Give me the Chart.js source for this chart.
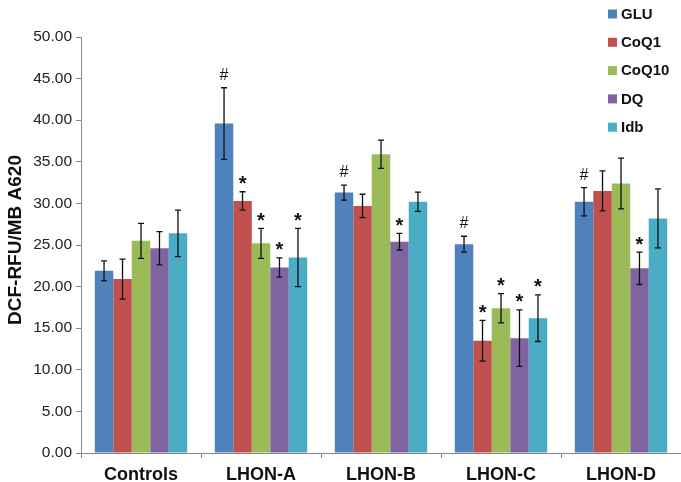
<!DOCTYPE html>
<html>
<head>
<meta charset="utf-8">
<script src="https://cdn.jsdelivr.net/npm/chart.js@4/dist/chart.umd.min.js"></script>
<style>
html,body{margin:0;padding:0;background:#fff;}
#wrap{width:681px;height:482px;position:relative;}
</style>
</head>
<body>
<div id="wrap"><canvas id="c" width="681" height="482"></canvas></div>
<script>
const categories = ['Controls', 'LHON-A', 'LHON-B', 'LHON-C', 'LHON-D'];
const seriesNames = ['GLU', 'CoQ1', 'CoQ10', 'DQ', 'Idb'];
const gluValues   = [21.9, 39.6, 31.3, 25.1, 30.2];
const coq1Values  = [20.9, 30.3, 29.7, 13.5, 31.5];
const coq10Values = [25.5, 25.2, 35.9, 17.4, 32.4];
const dqValues    = [24.6, 22.3, 25.4, 13.8, 22.2];
const idbValues   = [26.4, 23.5, 30.2, 16.2, 28.2];
const gluErr   = [1.2, 4.3, 0.9, 0.95, 1.7];
const coq1Err  = [2.4, 1.1, 1.4, 2.45, 2.4];
const coq10Err = [2.1, 1.8, 1.7, 1.75, 3.05];
const dqErr    = [2.0, 1.15, 1.0, 3.4, 1.95];
const idbErr   = [2.8, 3.5, 1.15, 2.8, 3.55];
const gluMarks   = ['', '#', '#', '#', '#'];
const coq1Marks  = ['', '*', '', '*', ''];
const coq10Marks = ['', '*', '', '*', ''];
const dqMarks    = ['', '*', '*', '*', '*'];
const idbMarks   = ['', '*', '', '*', ''];
const yTicks = [0, 5, 10, 15, 20, 25, 30, 35, 40, 45, 50];
const yTitle = 'DCF-RFU/MB A620';

const colors = ['#4F81BD', '#C0504D', '#9BBB59', '#8064A2', '#4BACC6'];
const values = [gluValues, coq1Values, coq10Values, dqValues, idbValues];
const errs = [gluErr, coq1Err, coq10Err, dqErr, idbErr];
const marks = [gluMarks, coq1Marks, coq10Marks, dqMarks, idbMarks];

const FONT = '"Liberation Sans", Arial, sans-serif';

const errorBarPlugin = {
  id: 'errorBars',
  afterDatasetsDraw(chart) {
    const ctx = chart.ctx;
    const y = chart.scales.y;
    ctx.save();
    chart.data.datasets.forEach((ds, i) => {
      const meta = chart.getDatasetMeta(i);
      meta.data.forEach((el, j) => {
        const v = ds.data[j], e = ds.errors[j];
        const yt = y.getPixelForValue(v + e);
        const yb = y.getPixelForValue(v - e);
        const x = el.x;
        ctx.strokeStyle = '#111';
        ctx.lineWidth = 1.3;
        ctx.beginPath();
        ctx.moveTo(x, yt); ctx.lineTo(x, yb);
        ctx.moveTo(x - 3, yt); ctx.lineTo(x + 3, yt);
        ctx.moveTo(x - 3, yb); ctx.lineTo(x + 3, yb);
        ctx.stroke();
        const m = ds.marks[j];
        if (m) {
          ctx.fillStyle = '#111';
          ctx.textAlign = 'center';
          ctx.textBaseline = 'alphabetic';
          if (m === '*') {
            ctx.font = 'bold 20px ' + FONT;
            ctx.fillText(m, x, yt - 1.5);
          } else {
            ctx.font = '16px ' + FONT;
            ctx.fillText(m, x, yt - 8);
          }
        }
      });
    });
    ctx.restore();
  }
};

const legendPlugin = {
  id: 'customLegend',
  afterDraw(chart) {
    const ctx = chart.ctx;
    ctx.save();
    ctx.font = 'bold 15px ' + FONT;
    ctx.textBaseline = 'middle';
    ctx.textAlign = 'left';
    chart.data.datasets.forEach((ds, i) => {
      const cy = 14 + i * 28.3;
      ctx.fillStyle = ds.backgroundColor;
      ctx.fillRect(608, cy - 4.5, 9, 9);
      ctx.fillStyle = '#111';
      ctx.fillText(ds.label, 621, cy + 0.5);
    });
    // y-axis title
    ctx.translate(15.5, 240);
    ctx.rotate(-Math.PI / 2);
    ctx.font = 'bold 19px ' + FONT;
    ctx.textAlign = 'center';
    ctx.textBaseline = 'middle';
    ctx.fillStyle = '#111';
    ctx.fillText(yTitle, 0, 0);
    ctx.restore();
  }
};

const datasets = seriesNames.map((name, i) => ({
  label: name,
  data: values[i],
  errors: errs[i],
  marks: marks[i],
  backgroundColor: colors[i],
  borderWidth: 0,
  categoryPercentage: 0.77,
  barPercentage: 1.0
}));

new Chart(document.getElementById('c'), {
  type: 'bar',
  data: { labels: categories, datasets },
  options: {
    responsive: false,
    animation: false,
    layout: { padding: { top: 37, right: 0, bottom: 0, left: 0 } },
    plugins: { legend: { display: false }, tooltip: { enabled: false } },
    scales: {
      x: {
        afterFit(s) { s.height = 29; },
        grid: { display: true, drawOnChartArea: false, tickLength: 5, color: '#888', offset: true },
        border: { display: true, color: '#888', width: 1 },
        ticks: { color: '#111', padding: 6, font: { family: FONT, size: 18, weight: 'bold' } }
      },
      y: {
        min: 0, max: 50,
        afterFit(s) { s.width = 81; },
        afterBuildTicks(s) { s.ticks = yTicks.map(v => ({ value: v })); },
        grid: { display: true, drawOnChartArea: false, tickLength: 5, color: '#888' },
        border: { display: true, color: '#888', width: 1 },
        ticks: { color: '#222', padding: 4, font: { family: FONT, size: 15.5 },
                 callback: v => Number(v).toFixed(2) },
        title: { display: false }
      }
    }
  },
  plugins: [errorBarPlugin, legendPlugin]
});
</script>
</body>
</html>
